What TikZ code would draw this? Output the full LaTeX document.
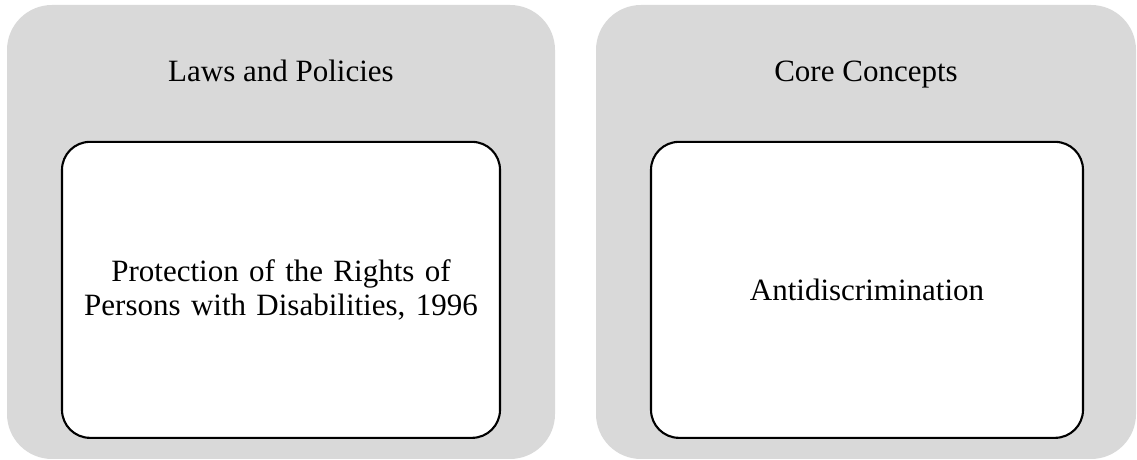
\documentclass[tikz,border=0pt]{standalone}
\usepackage{fontspec}
\setmainfont{Liberation Serif}
\usetikzlibrary{positioning, calc}
\definecolor{panelgray}{RGB}{217,217,217}

\tikzstyle{panel} = [rectangle, rounded corners=45pt, minimum height=454pt, fill=panelgray, draw=none, inner sep=0pt]
\tikzstyle{card} = [rectangle, rounded corners=28pt, minimum height=296pt, text width=400pt, align=center, draw=black, line width=2.1pt, fill=white, inner sep=0pt, font=\fontsize{31}{34}\selectfont]
\tikzstyle{heading} = [anchor=base, font=\fontsize{31}{34}\selectfont]

\begin{document}
\begin{tikzpicture}[x=1pt, y=1pt]
    \useasboundingbox (0,0) rectangle (1137,460);

    \node (laws) [panel, minimum width=548pt] at (281,228) {};
    \node (core) [panel, minimum width=540pt] at (866,228) {};

    \node (laws_title) [heading] at ($(laws.north)+(0,-77pt)$) {Laws and Policies};
    \node (core_title) [heading] at ($(core.north)+(0,-77pt)$) {Core Concepts};

    \node (laws_box) [card, minimum width=438pt, below=136pt of laws.north] {Protection of the Rights of\\Persons with Disabilities, 1996};
    \node (core_box) [card, minimum width=432pt, below=136pt of core.north, xshift=1pt] {Antidiscrimination};
\end{tikzpicture}
\end{document}
